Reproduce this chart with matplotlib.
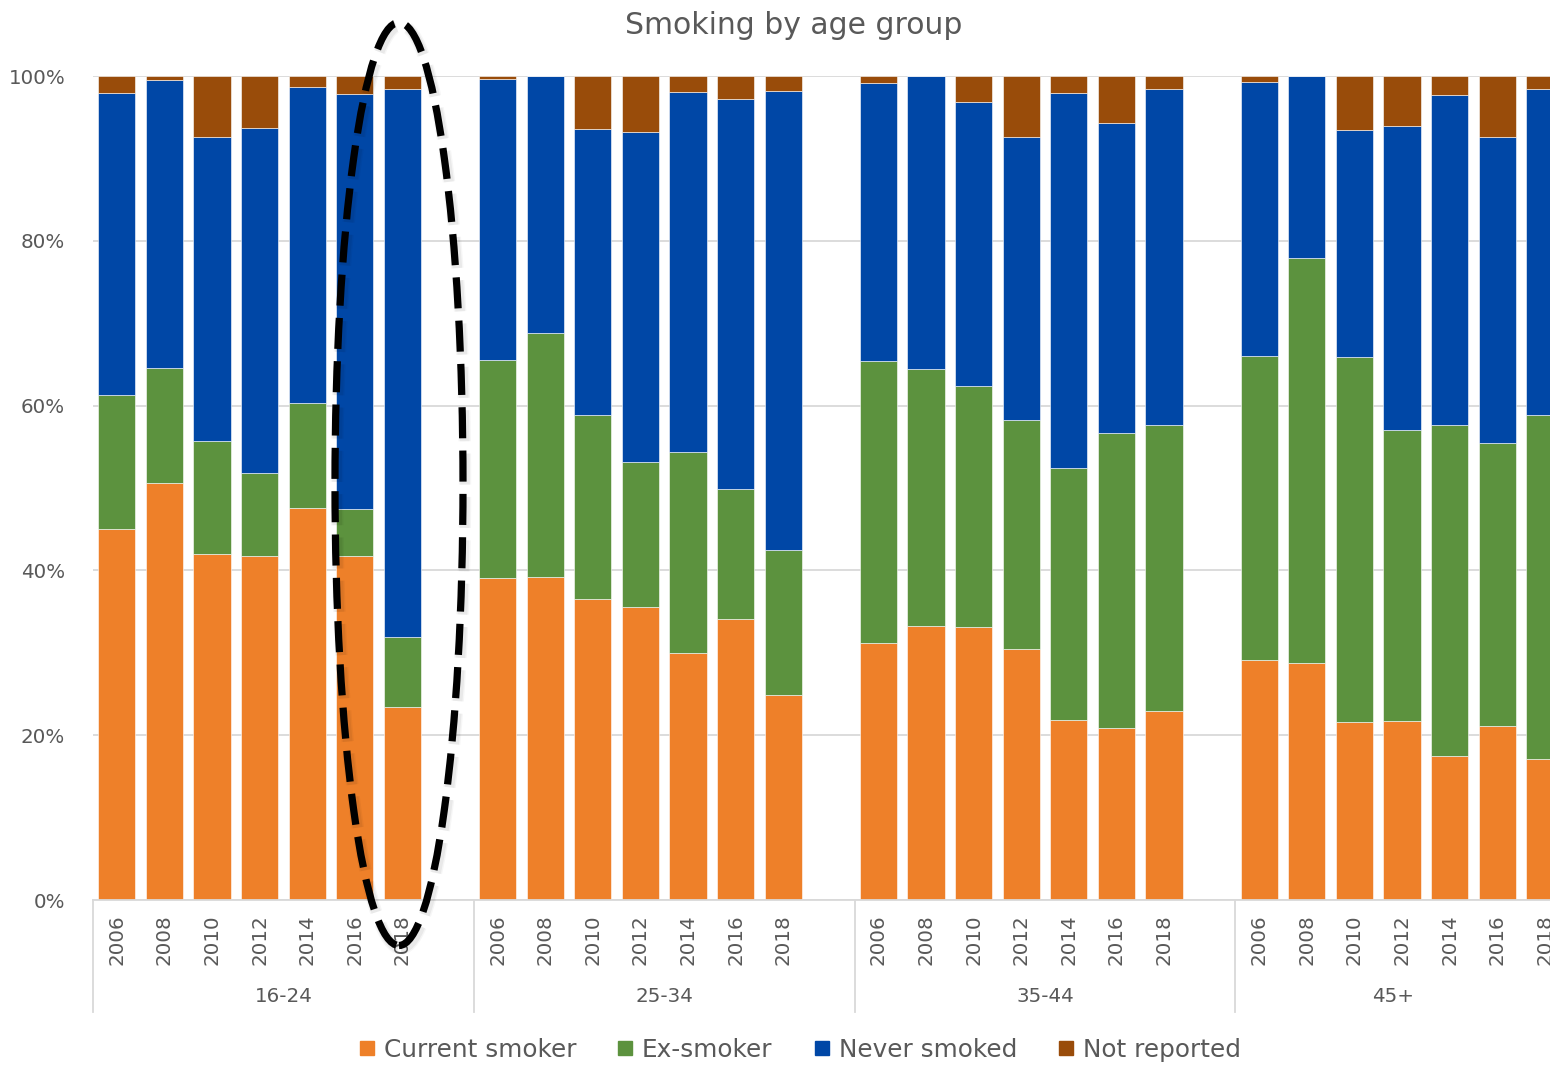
import numpy as np
import matplotlib
matplotlib.use("Agg")
import matplotlib.pyplot as plt
from matplotlib.patches import Ellipse
from matplotlib.lines import Line2D
import matplotlib.transforms as mtransforms

plt.rcParams["font.family"] = ["DejaVu Sans"]

GROUPS = ["16-24", "25-34", "35-44", "45+"]
YEARS = ["2006", "2008", "2010", "2012", "2014", "2016", "2018"]

# percentages per group, years in order
current = [
    [45.0, 50.6, 42.0, 41.7, 47.6, 41.7, 23.4],
    [39.1, 39.2, 36.5, 35.6, 30.0, 34.1, 24.9],
    [31.2, 33.3, 33.1, 30.5, 21.8, 20.9, 22.9],
    [29.1, 28.8, 21.6, 21.7, 17.5, 21.1, 17.1],
]
ex_smoker = [
    [16.3, 14.0, 13.7, 10.1, 12.7, 5.8, 8.5],
    [26.4, 29.6, 22.4, 17.6, 24.4, 15.8, 17.6],
    [34.2, 31.1, 29.3, 27.8, 30.6, 35.8, 34.7],
    [36.9, 49.1, 44.3, 35.3, 40.1, 34.4, 41.8],
]
never = [
    [36.6, 34.9, 36.9, 41.9, 38.4, 50.3, 66.5],
    [34.1, 31.2, 34.7, 40.0, 43.7, 47.3, 55.7],
    [33.8, 35.6, 34.4, 34.3, 45.5, 37.6, 40.8],
    [33.3, 22.1, 27.5, 36.9, 40.1, 37.1, 39.5],
]
not_reported = [
    [2.1, 0.5, 7.4, 6.3, 1.3, 2.2, 1.6],
    [0.4, 0.0, 6.4, 6.8, 1.9, 2.8, 1.8],
    [0.8, 0.0, 3.2, 7.4, 2.1, 5.7, 1.6],
    [0.7, 0.0, 6.6, 6.1, 2.3, 7.4, 1.6],
]

SERIES = [
    ("Current smoker", current, "#EE8029"),
    ("Ex-smoker", ex_smoker, "#5C923E"),
    ("Never smoked", never, "#0047A6"),
    ("Not reported", not_reported, "#994C0A"),
]
GREY = "#595959"
LIGHT = "#D9D9D9"
AXFS = 14.3

W, H = 1550, 1068
fig = plt.figure(figsize=(W / 100, H / 100), dpi=100)
slot = 8  # 7 years + one empty slot per group
n_slots = slot * len(GROUPS)
slot_px = 47.6
left_px, top_px, bottom_px = 93, 76, 900
ax = fig.add_axes([left_px / W, 1 - bottom_px / H,
                   n_slots * slot_px / W, (bottom_px - top_px) / H])

x = np.array([g * slot + j + 0.5 for g in range(len(GROUPS)) for j in range(len(YEARS))])
bottom = np.zeros(len(x))
for name, vals, col in SERIES:
    v = np.array(vals).ravel()
    ax.bar(x, v, width=0.78, bottom=bottom, color=col, edgecolor="white",
           linewidth=0.4, zorder=2)
    bottom += v

ax.set_xlim(0, n_slots)
ax.set_ylim(0, 100)
ax.set_yticks(np.arange(0, 101, 20))
ax.set_yticklabels([f"{t}%" for t in range(0, 101, 20)], color=GREY, fontsize=AXFS)
ax.tick_params(axis="y", length=0, pad=20)
ax.set_xticks([])
ax.grid(axis="y", color=LIGHT, lw=1.3, zorder=0)
for s in ["top", "right", "left"]:
    ax.spines[s].set_visible(False)
ax.spines["bottom"].set_color(LIGHT)
ax.spines["bottom"].set_linewidth(1.3)

# two-level category axis; group names centred on the visible part of each group
trans = mtransforms.blended_transform_factory(ax.transData, fig.transFigure)
visible_right = (W - left_px) / slot_px
for xi, yr in zip(x, YEARS * len(GROUPS)):
    ax.text(xi, 1 - 914 / H, yr, transform=trans, rotation=90, ha="center",
            va="top", color=GREY, fontsize=AXFS, clip_on=False)
for g, name in enumerate(GROUPS):
    g0, g1 = g * slot, min((g + 1) * slot, visible_right)
    ax.text((g0 + g1) / 2, 1 - 997 / H, name, transform=trans, ha="center",
            va="center", color=GREY, fontsize=AXFS, clip_on=False)
for g in range(len(GROUPS)):
    ax.add_line(Line2D([g * slot, g * slot], [1 - 900 / H, 1 - 1012 / H],
                       transform=trans, color=LIGHT, lw=1.3, clip_on=False))

fig.text(794 / W, 1 - 25 / H, "Smoking by age group", ha="center", va="center",
         color=GREY, fontsize=21.5)

handles = [Line2D([], [], marker="s", linestyle="", markerfacecolor=c,
                  markeredgecolor=c, markersize=10, label=n)
           for n, _, c in SERIES]
leg = fig.legend(handles=handles, loc="center", bbox_to_anchor=(799 / W, 1 - 1050 / H),
                 ncol=4, frameon=False, fontsize=17.8, handletextpad=0.27,
                 columnspacing=1.6, handlelength=0.8, borderaxespad=0)
for t in leg.get_texts():
    t.set_color(GREY)

# dashed ring around the latest 16-24 bar, with a faint drop shadow
cx, cy, ew, eh = 399, 484, 128, 923
dash = (0, (4.3, 1.7))
for lw, a in [(9, 0.035), (7, 0.05)]:
    fig.add_artist(Ellipse(((cx + 2) / W, 1 - (cy + 3) / H), ew / W, eh / H,
                           transform=fig.transFigure, fill=False,
                           edgecolor="black", lw=lw, alpha=a,
                           linestyle=(0, (4.3 * 5.2 / lw, 1.7 * 5.2 / lw)),
                           zorder=10))
ring = Ellipse((cx / W, 1 - cy / H), ew / W, eh / H, transform=fig.transFigure,
               fill=False, edgecolor="black", lw=5.2, linestyle=dash, zorder=11)
fig.add_artist(ring)

fig.savefig("out.png", dpi=100)
